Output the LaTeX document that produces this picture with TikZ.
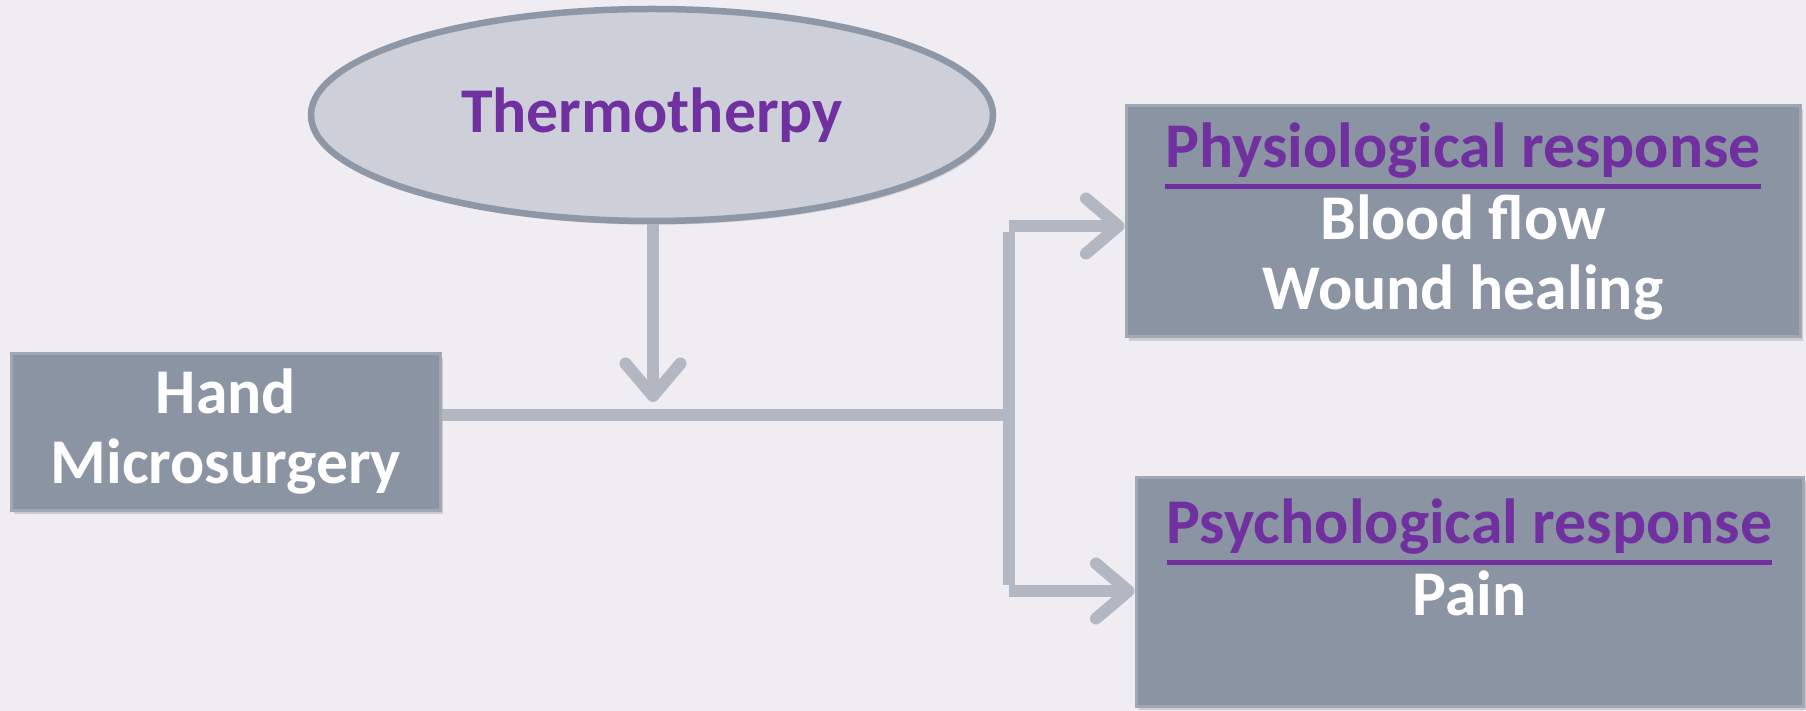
\documentclass[tikz,border=0pt]{standalone}
\usepackage{fontspec}
\setmainfont{Carlito}
\usetikzlibrary{arrows.meta,shapes.geometric,shadows}
\definecolor{bg}{HTML}{EFEDF2}
\definecolor{ellfill}{HTML}{CDD0D8}
\definecolor{elldraw}{HTML}{8E97A5}
\definecolor{boxfill}{HTML}{8A94A2}
\definecolor{boxdraw}{HTML}{A0A8B4}
\definecolor{conncol}{HTML}{B2B7C2}
\definecolor{purp}{HTML}{7030A0}
\newcommand\purpul[1]{\textcolor{purp}{\setbox0\hbox{#1}\rlap{\rule[-8.6pt]{\wd0}{1.7pt}}\box0}}
\tikzset{
  txt/.style={font=\bfseries\fontsize{25.5}{28}\selectfont, align=center},
  ellnode/.style={ellipse, fill=ellfill, draw=elldraw, line width=2.6pt, inner sep=0pt,
     drop shadow={opacity=0.25, shadow xshift=1pt, shadow yshift=-1.5pt}},
  boxnode/.style={rectangle, fill=boxfill, draw=boxdraw, line width=1.2pt, inner sep=0pt,
     drop shadow={opacity=0.3, shadow xshift=1pt, shadow yshift=-1.5pt}, text=white},
  conn/.style={draw=conncol, line width=4.8pt},
  arr/.style={conn, -{Straight Barb[length=13pt, width=22pt, round]}},
}
\begin{document}
\begin{tikzpicture}[x=0.4pt, y=-0.4pt]
\fill[bg] (0,0) rectangle (1806,711);
\useasboundingbox (0,0) rectangle (1806,711);

\node[ellnode, txt, text=purp, minimum width=272.8pt, minimum height=84.8pt] (th) at (652,115) {Thermotherpy};
\node[boxnode, txt, minimum width=171.2pt, minimum height=62.4pt] (hand) at (226,432) {Hand\\Microsurgery};
\node[boxnode, txt, minimum width=269.6pt, minimum height=92.4pt] (phys) at (1463,221.5)
  {\purpul{Physiological response}\\[1pt]Blood flow\\Wound healing};
\node[boxnode, txt, minimum width=266.8pt, minimum height=91.2pt] (psych) at (1469.5,592)
  {\purpul{Psychological response}\\[1pt]Pain\\\mbox{}};

\coordinate (jt) at (653,402);
\coordinate (vm) at (1009,415);
\coordinate (vt) at (1009,226);
\coordinate (vb) at (1009,591);

\draw[arr] (th.south -| jt) -- (jt);
\draw[conn] (hand.east |- vm) -- (vm);
\draw[conn] ([yshift=-2.4pt]vt) -- ([yshift=2.4pt]vb);
\draw[arr] (vt) -- (vt -| phys.west);
\draw[arr] (vb) -- (vb -| psych.west);
\end{tikzpicture}
\end{document}
